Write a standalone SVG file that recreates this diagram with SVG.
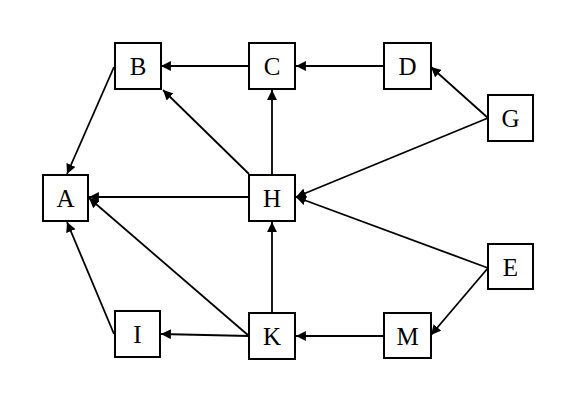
<svg xmlns="http://www.w3.org/2000/svg" width="572" height="402" viewBox="0 0 572 402">
<style>
.box{fill:#fff;stroke:#000;stroke-width:2}
.lbl{font-family:"Liberation Serif","Times New Roman",serif;font-size:25px;text-anchor:middle;fill:#000}
.edge{stroke:#000;stroke-width:1.8;fill:none;marker-end:url(#arr)}
</style>
<defs>
<marker id="arr" viewBox="0 0 10 10" refX="10" refY="5" markerWidth="5.5" markerHeight="5.5" markerUnits="strokeWidth" orient="auto">
<path d="M0,0 L10,5 L0,10 z" fill="#000"/>
</marker>
</defs>
<rect width="572" height="402" fill="#fff"/>
<g id="connectors">
<line class="edge" x1="249" y1="66" x2="161" y2="66"/>
<line class="edge" x1="384" y1="66" x2="296" y2="66"/>
<line class="edge" x1="488" y1="118" x2="431" y2="67"/>
<line class="edge" x1="488" y1="118" x2="296" y2="197"/>
<line class="edge" x1="488" y1="268" x2="296" y2="197"/>
<line class="edge" x1="488" y1="268" x2="431" y2="335"/>
<line class="edge" x1="384" y1="336" x2="296" y2="336"/>
<line class="edge" x1="272" y1="313" x2="272" y2="222"/>
<line class="edge" x1="272" y1="174" x2="272" y2="90"/>
<line class="edge" x1="249" y1="174" x2="163" y2="90"/>
<line class="edge" x1="249" y1="197" x2="89" y2="197"/>
<line class="edge" x1="114" y1="67" x2="67" y2="174"/>
<line class="edge" x1="249" y1="336" x2="89" y2="198"/>
<line class="edge" x1="249" y1="336" x2="161" y2="334"/>
<line class="edge" x1="114" y1="334" x2="67" y2="222"/>
</g>
<g id="node-B"><rect class="box" x="115" y="43" width="46" height="46"/><text class="lbl" x="138" y="75">B</text></g>
<g id="node-C"><rect class="box" x="249" y="43" width="46" height="46"/><text class="lbl" x="272" y="75">C</text></g>
<g id="node-D"><rect class="box" x="384" y="43" width="47" height="46"/><text class="lbl" x="407.5" y="75">D</text></g>
<g id="node-A"><rect class="box" x="43" y="175" width="45" height="46"/><text class="lbl" x="65.5" y="207">A</text></g>
<g id="node-H"><rect class="box" x="249" y="175" width="46" height="46"/><text class="lbl" x="272" y="207">H</text></g>
<g id="node-G"><rect class="box" x="488" y="95" width="45" height="46"/><text class="lbl" x="510.5" y="127">G</text></g>
<g id="node-E"><rect class="box" x="488" y="244" width="45" height="45"/><text class="lbl" x="510.5" y="275.5">E</text></g>
<g id="node-I"><rect class="box" x="115" y="311" width="45" height="46"/><text class="lbl" x="137.5" y="342.5">I</text></g>
<g id="node-K"><rect class="box" x="249" y="313" width="46" height="46"/><text class="lbl" x="272" y="345">K</text></g>
<g id="node-M"><rect class="box" x="384" y="313" width="47" height="45"/><text class="lbl" x="407.5" y="344.5">M</text></g>
</svg>
